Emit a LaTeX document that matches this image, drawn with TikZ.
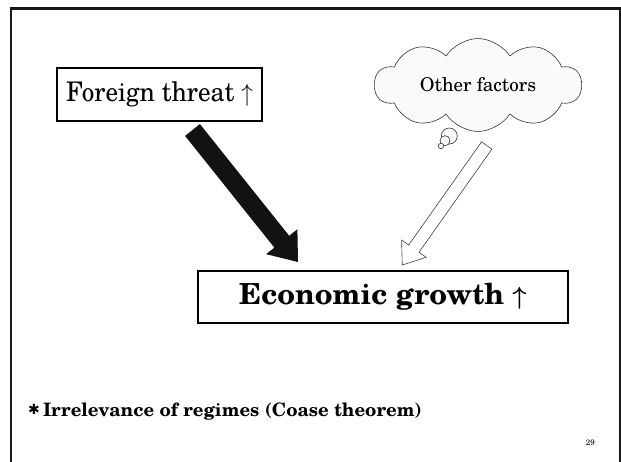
\documentclass[tikz,border=0pt]{standalone}
\usepackage{amsmath}
\usepackage{fontspec}
\setmainfont{TeX Gyre Schola}
\newfontfamily\symbolfont{DejaVu Sans}
\usetikzlibrary{calc,shapes.symbols}
\tikzset{
  labelbox/.style={draw, line width=2pt, inner sep=0pt, font=\fontsize{27}{30}\selectfont},
  thought/.style={cloud, cloud puffs=10, cloud puff arc=115, aspect=2.4, draw=black!80,
    line width=0.6pt, fill=gray!4, inner sep=0pt, font=\fontsize{19}{21}\selectfont},
  bubble/.style={draw=black!80, line width=0.6pt, fill=gray!4},
  solidarrow/.style={fill=black!93},
  hollowarrow/.style={fill=white, draw=black!75, line width=0.6pt, line join=miter},
  slideframe/.style={line width=2.7pt, draw=black!90}
}
\begin{document}
\begin{tikzpicture}[x=1pt, y=-1pt]
  \useasboundingbox (0,0) rectangle (621,462);
  \begin{scope}
    \clip (0,0) rectangle (621,462);
    \draw[slideframe] (11,480) -- (11,8.7) -- (620,8.7) -- (620,480);
  \end{scope}

  % boxes
  \node[labelbox, minimum width=205pt, minimum height=53pt] (ft) at (159.5,94.5)
    {\scalebox{0.93}[1]{Foreign threat $\uparrow$}};
  \node[labelbox, minimum width=370pt, minimum height=52pt, font=\fontsize{29}{32}\selectfont\bfseries] (eg) at (383,297)
    {Economic growth $\boldsymbol{\uparrow}$};

  % cloud with thought bubbles
  \node[thought, minimum width=207pt, minimum height=86pt] (cl) at (478,85) {Other factors};
  \draw[bubble] (449.3,136) circle (8pt);
  \draw[bubble] (445,140.7) circle (5pt);
  \draw[bubble] (441,146) circle (2.7pt);

  % solid arrow: foreign threat -> growth
  \coordinate (bt) at ($(ft.south)+(33,8)$);
  \coordinate (bh) at ($(eg.north west)+(101,-8)$);
  \coordinate (bb) at ($(bh)!26pt!(bt)$);
  \path[solidarrow] ($(bt)!9.5pt!90:(bh)$) -- ($(bb)!9.5pt!-90:(bt)$) -- ($(bb)!20pt!-90:(bt)$)
    -- (bh) -- ($(bb)!20pt!90:(bt)$) -- ($(bb)!9.5pt!90:(bt)$) -- ($(bt)!9.5pt!-90:(bh)$) -- cycle;

  % hollow arrow: other factors -> growth
  \coordinate (wt) at (486.7,145.5);
  \coordinate (wh) at ($(eg.north west)+(205.3,-5)$);
  \coordinate (wb) at ($(wh)!20pt!(wt)$);
  \path[hollowarrow] ($(wt)!6.3pt!90:(wh)$) -- ($(wb)!6.3pt!-90:(wt)$) -- ($(wb)!15pt!-90:(wt)$)
    -- (wh) -- ($(wb)!15pt!90:(wt)$) -- ($(wb)!6.3pt!90:(wt)$) -- ($(wt)!6.3pt!-90:(wh)$) -- cycle;

  % footnote and page number
  \node[anchor=base west, inner sep=0pt, font=\fontsize{18.5}{21}\selectfont\bfseries] (note) at (28,416)
    {{\symbolfont\fontsize{14}{15}\selectfont\raisebox{1.5pt}{✱}}\,Irrelevance of regimes (Coase theorem)};
  \node[anchor=base east, inner sep=0pt, font=\fontsize{8}{9}\selectfont] (pg) at (595,445) {29};
\end{tikzpicture}
\end{document}
